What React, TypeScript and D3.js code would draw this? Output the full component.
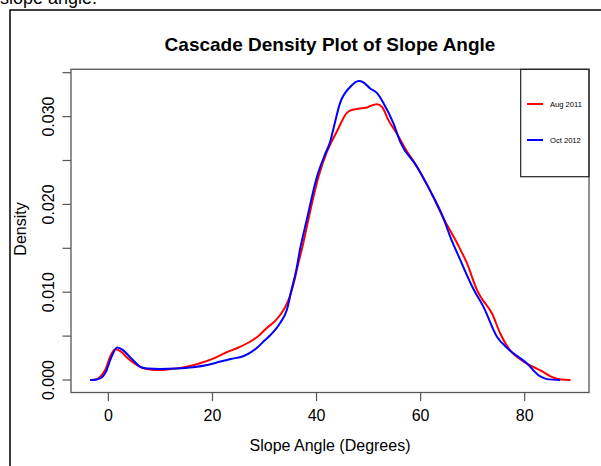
import React from "react";
import * as d3 from "d3";

const seriesNames = ["Aug 2011", "Oct 2012"];
const seriesColors = ["#ff0000", "#0000ff"];

const aug2011X = [-3.5, -2.5, -1.5, -0.5, 0.3, 1.3, 2.5, 3.5, 5, 6.5, 8, 9.5, 11, 13, 15, 17.6, 20, 22.5, 25, 27.6, 29, 30.4, 32, 33, 34.6, 35.6, 36.5, 37.3, 38.4, 40.4, 42, 43.9, 45.8, 46.5, 48, 49.5, 50.3, 51.6, 52.6, 53.8, 55.4, 57, 59.3, 61.8, 64.4, 67, 68.9, 70.8, 71.5, 73.7, 75.3, 76.9, 79.8, 83, 85.6, 87, 88.8];
const aug2011Y = [0, 0.00005, 0.0004, 0.0013, 0.0026, 0.0035, 0.0032, 0.0026, 0.0019, 0.0014, 0.0012, 0.00114, 0.00118, 0.0013, 0.0015, 0.0019, 0.0024, 0.0031, 0.0037, 0.0045, 0.0051, 0.0059, 0.0067, 0.0074, 0.0091, 0.011, 0.0133, 0.0152, 0.0182, 0.0232, 0.026, 0.0283, 0.0304, 0.0307, 0.0309, 0.031, 0.0312, 0.0314, 0.0311, 0.0296, 0.0281, 0.0264, 0.0243, 0.0216, 0.0184, 0.0156, 0.0133, 0.0103, 0.0095, 0.0076, 0.0053, 0.0036, 0.0021, 0.0011, 0.00026, 0.00005, 0];

const oct2012X = [-3.5, -2.5, -1.5, -0.5, 0.5, 1.7, 2.8, 4, 5, 6.1, 7.5, 9.9, 13, 16.3, 19, 21.5, 23.5, 25.9, 27.5, 28.8, 30, 31.1, 33, 34.3, 35.2, 36.1, 36.8, 38.1, 40.1, 41.7, 42.6, 43.2, 44.5, 46.5, 48.1, 49, 50.3, 51.6, 52.9, 54.8, 56.1, 59.3, 61.8, 64.4, 65.7, 67.6, 70.2, 72.1, 74.7, 76.9, 80.4, 83, 84.3, 86.8];
const oct2012Y = [0, 0.00003, 0.0002, 0.0009, 0.0025, 0.0037, 0.0034, 0.0027, 0.0021, 0.0015, 0.0013, 0.00125, 0.0013, 0.00145, 0.0017, 0.0021, 0.0024, 0.0027, 0.0032, 0.0038, 0.0045, 0.0051, 0.0065, 0.008, 0.0103, 0.0125, 0.0148, 0.0182, 0.0232, 0.0258, 0.0271, 0.0285, 0.0315, 0.0334, 0.03405, 0.0339, 0.0332, 0.0327, 0.0315, 0.0292, 0.0271, 0.0243, 0.0216, 0.0184, 0.0163, 0.0137, 0.0103, 0.0083, 0.0049, 0.0035, 0.0019, 0.0004, 0.0001, 0];

const xTicks = [0, 20, 40, 60, 80];
const yTicks = [0, 0.005, 0.01, 0.015, 0.02, 0.025, 0.03, 0.035];
const yTickLabels = ["0.000", "", "0.010", "", "0.020", "", "0.030", ""];

const FONT = "'Liberation Sans', Arial, Helvetica, sans-serif";

export default function App() {
  const x = d3.scaleLinear().domain([0, 80]).range([108.4, 524.7]);
  const y = d3.scaleLinear().domain([0, 0.03]).range([380, 116.6]);
  const boxL = 71, boxR = 589, boxT = 69.3, boxB = 392.5;

  const series = [
    aug2011X.map((v, i) => [v, aug2011Y[i]] as [number, number]),
    oct2012X.map((v, i) => [v, oct2012Y[i]] as [number, number]),
  ];
  const line = d3
    .line<[number, number]>()
    .x((d) => x(d[0]))
    .y((d) => y(d[1]))
    .curve(d3.curveMonotoneX);

  const legL = 520.7, legB = 176.7;
  const legendY = [104, 140];

  return (
    <div style={{ position: "absolute", left: 0, top: 0 }}>
      <svg width={601} height={466} style={{ display: "block", background: "#fff" }} fontFamily={FONT}>
        <text x={0} y={3.5} fontSize={18} fill="#000">slope angle.</text>
        <path d="M10,466 V10 H601" fill="none" stroke="#000" strokeWidth={1.5} />
        <text x={330} y={51} textAnchor="middle" fontSize={19} fontWeight="bold" fill="#000">
          Cascade Density Plot of Slope Angle
        </text>
        <rect x={boxL} y={boxT} width={boxR - boxL} height={boxB - boxT} fill="none" stroke="#555" strokeWidth={1.3} />
        {xTicks.map((t) => (
          <g key={"x" + t}>
            <line x1={x(t)} x2={x(t)} y1={boxB} y2={boxB + 8.5} stroke="#555" strokeWidth={1.2} />
            <text x={x(t)} y={420.5} textAnchor="middle" fontSize={16} fill="#000">{t}</text>
          </g>
        ))}
        {yTicks.map((t, i) => (
          <g key={"y" + i}>
            <line x1={boxL} x2={boxL - 8.5} y1={y(t)} y2={y(t)} stroke="#555" strokeWidth={1.2} />
            {yTickLabels[i] && (
              <text transform={`translate(53.5,${y(t)}) rotate(-90)`} textAnchor="middle" fontSize={16} fill="#000">
                {yTickLabels[i]}
              </text>
            )}
          </g>
        ))}
        <text x={330} y={451} textAnchor="middle" fontSize={16} fill="#000">Slope Angle (Degrees)</text>
        <text transform="translate(25.5,229) rotate(-90)" textAnchor="middle" fontSize={16} fill="#000">Density</text>
        {series.map((s, i) => (
          <path key={"s" + i} d={line(s) || ""} fill="none" stroke={seriesColors[i]} strokeWidth={2} strokeLinejoin="round" />
        ))}
        <rect x={legL} y={boxT} width={boxR - legL} height={legB - boxT} fill="none" stroke="#222" strokeWidth={1.2} />
        {seriesNames.map((n, i) => (
          <g key={"l" + i}>
            <line x1={527} x2={543} y1={legendY[i]} y2={legendY[i]} stroke={seriesColors[i]} strokeWidth={2} />
            <text x={550} y={legendY[i] + 2.6} fontSize={7.6} fill="#000">{n}</text>
          </g>
        ))}
      </svg>
    </div>
  );
}
